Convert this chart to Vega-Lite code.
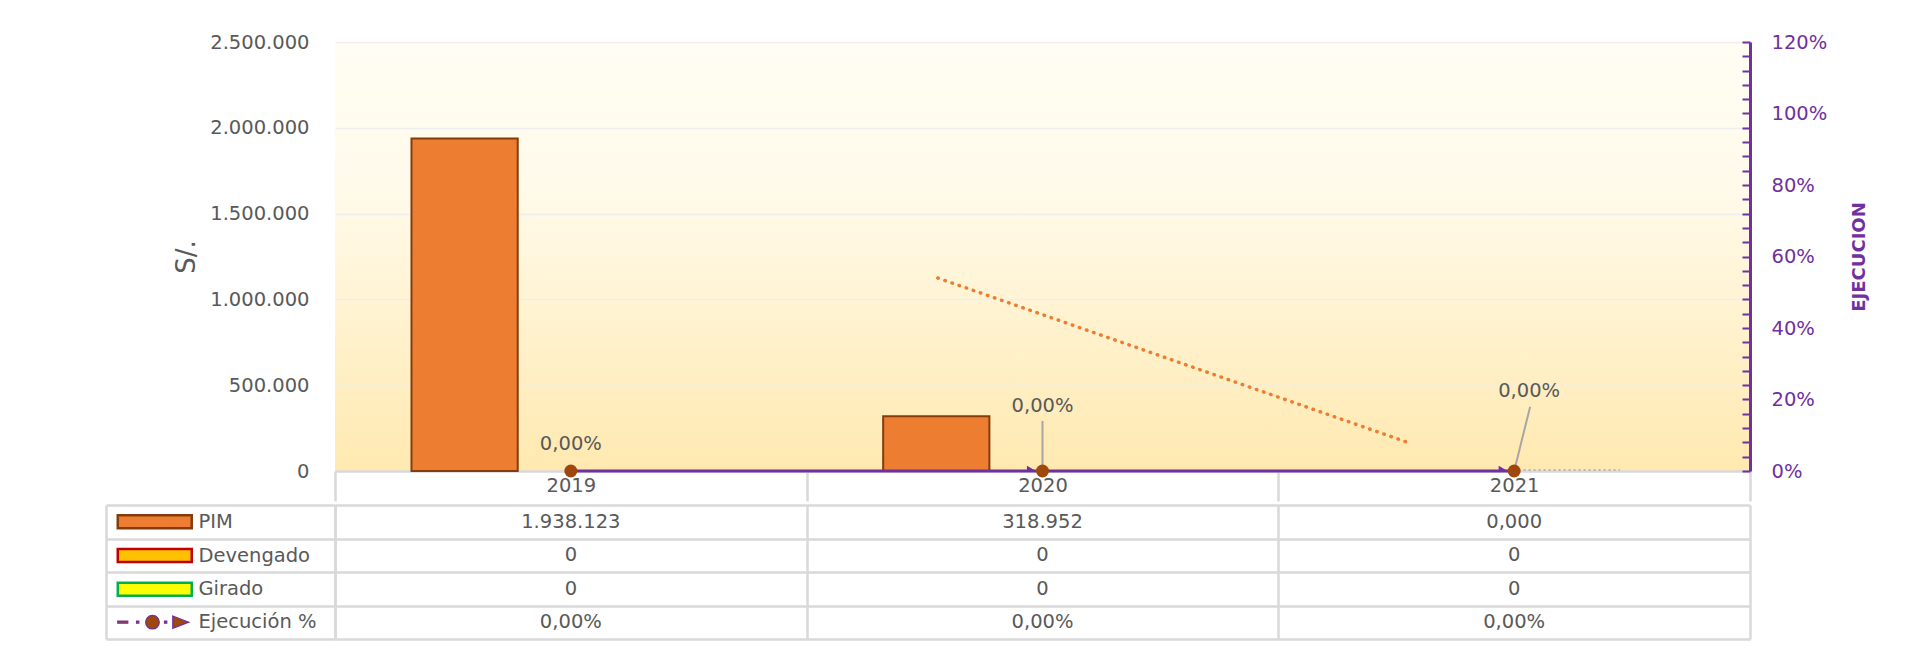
{
  "$schema": "https://vega.github.io/schema/vega-lite/v6.json",
  "background": "white",
  "padding": {"left": 104, "top": 32, "right": 10, "bottom": 8},
  "config": {
    "font": "DejaVu Sans",
    "view": {"stroke": null},
    "locale": {"number": {"decimal": ",", "thousands": ".", "grouping": [3], "currency": ["S/ ", ""]}}
  },
  "datasets": {
    "montos": [
      {"anio": "2019", "serie": "PIM", "monto": 1938123},
      {"anio": "2019", "serie": "Devengado", "monto": 0},
      {"anio": "2019", "serie": "Girado", "monto": 0},
      {"anio": "2020", "serie": "PIM", "monto": 318952},
      {"anio": "2020", "serie": "Devengado", "monto": 0},
      {"anio": "2020", "serie": "Girado", "monto": 0},
      {"anio": "2021", "serie": "PIM", "monto": 0},
      {"anio": "2021", "serie": "Devengado", "monto": 0},
      {"anio": "2021", "serie": "Girado", "monto": 0}
    ],
    "ejecucion": [
      {"anio": "2019", "pct": 0},
      {"anio": "2020", "pct": 0},
      {"anio": "2021", "pct": 0}
    ],
    "tendencia": [
      {"anio_t": 2019.778, "monto": 1124700},
      {"anio_t": 2020.772, "monto": 169000}
    ],
    "tendencia_ejec": [
      {"anio_t": 2021.02, "pct": 0.003},
      {"anio_t": 2021.224, "pct": 0.003}
    ],
    "tabla": [
      {"anio": "2019", "serie": "PIM", "texto": "1.938.123"},
      {"anio": "2020", "serie": "PIM", "texto": "318.952"},
      {"anio": "2021", "serie": "PIM", "texto": "0,000"},
      {"anio": "2019", "serie": "Devengado", "texto": "0"},
      {"anio": "2020", "serie": "Devengado", "texto": "0"},
      {"anio": "2021", "serie": "Devengado", "texto": "0"},
      {"anio": "2019", "serie": "Girado", "texto": "0"},
      {"anio": "2020", "serie": "Girado", "texto": "0"},
      {"anio": "2021", "serie": "Girado", "texto": "0"},
      {"anio": "2019", "serie": "Ejecución %", "texto": "0,00%"},
      {"anio": "2020", "serie": "Ejecución %", "texto": "0,00%"},
      {"anio": "2021", "serie": "Ejecución %", "texto": "0,00%"}
    ]
  },
  "spacing": 0,
  "resolve": {"scale": {"color": "independent"}, "legend": {"color": "independent"}},
  "vconcat": [
    {
      "width": 1415,
      "height": 429,
      "view": {
        "stroke": null,
        "fill": {
          "gradient": "linear", "x1": 0, "y1": 0, "x2": 0, "y2": 1,
          "stops": [
            {"offset": 0, "color": "#FFFDF4"},
            {"offset": 0.35, "color": "#FFFAEA"},
            {"offset": 1, "color": "#FFE9B0"}
          ]
        }
      },
      "layer": [
        {
          "layer": [
            {
              "data": {"name": "montos"},
              "transform": [{"filter": "datum.monto > 0"}],
              "mark": {"type": "bar", "color": "#ED7D31", "stroke": "#843C0C", "strokeWidth": 2},
              "encoding": {
                "x": {
                  "field": "anio", "type": "nominal",
                  "scale": {"domain": ["2019", "2020", "2021"], "paddingInner": 0, "paddingOuter": 0},
                  "axis": {
                    "title": null, "labelAngle": 0, "labelFontSize": 19.5, "labelColor": "#595959",
                    "labelPadding": -25, "ticks": true, "tickBand": "extent", "tickSize": 30,
                    "tickColor": "#D9D9D9", "tickWidth": 2.5, "domain": true, "domainColor": "#D9D9D9",
                    "domainWidth": 2.5, "grid": false
                  }
                },
                "xOffset": {
                  "field": "serie", "type": "nominal",
                  "scale": {"domain": ["PIM", "Devengado", "Girado"], "paddingInner": 0, "paddingOuter": 0.72}
                },
                "y": {
                  "field": "monto", "type": "quantitative",
                  "scale": {"domain": [0, 2500000], "nice": false},
                  "axis": {
                    "values": [0, 500000, 1000000, 1500000, 2000000, 2500000],
                    "format": ",d", "title": "S/.", "titleFontSize": 26, "titleFontWeight": "normal",
                    "titleColor": "#595959", "titlePadding": 10, "labelColor": "#595959",
                    "labelFontSize": 19.5, "labelPadding": 26, "ticks": false, "domain": false,
                    "grid": true, "gridColor": "#EEEEEE", "gridWidth": 1.5
                  }
                }
              }
            },
            {
              "data": {"name": "ejecucion"},
              "encoding": {
                "x": {"field": "anio", "type": "nominal"},
                "y": {
                  "field": "pct", "type": "quantitative",
                  "scale": {"domain": [0, 1.2], "nice": false},
                  "axis": {
                    "orient": "right",
                    "values": [0, 0.04, 0.08, 0.12, 0.16, 0.2, 0.24, 0.28, 0.32, 0.36, 0.4, 0.44, 0.48, 0.52, 0.56, 0.6, 0.64, 0.68, 0.72, 0.76, 0.8, 0.84, 0.88, 0.92, 0.96, 1, 1.04, 1.08, 1.12, 1.16, 1.2],
                    "labelExpr": "round(datum.value * 100) % 20 === 0 ? format(datum.value, '.0%') : ''",
                    "labelOverlap": false,
                    "title": "EJECUCION", "titleColor": "#7030A0", "titleFontWeight": "bold",
                    "titleFontSize": 18, "titleAngle": 270, "titlePadding": 42,
                    "labelColor": "#7030A0", "labelFontSize": 19.5, "labelPadding": 29,
                    "tickColor": "#7030A0", "tickWidth": 2, "tickSize": -8,
                    "domainColor": "#7030A0", "domainWidth": 3, "grid": false
                  }
                }
              },
              "layer": [
                {"mark": {"type": "line", "color": "#7030A0", "strokeWidth": 3}},
                {
                  "transform": [{"filter": "datum.anio != '2019'"}],
                  "mark": {"type": "point", "shape": "triangle-right", "filled": true, "color": "#7030A0", "opacity": 1, "size": 110, "xOffset": -11, "clip": true}
                },
                {
                  "transform": [{"filter": "datum.anio == '2020'"}],
                  "mark": {"type": "rule", "color": "#A6A6A6", "strokeWidth": 2},
                  "encoding": {"y2": {"datum": 0.14}}
                },
                {
                  "transform": [{"filter": "datum.anio == '2021'"}],
                  "mark": {"type": "rule", "color": "#A6A6A6", "strokeWidth": 2, "x2Offset": 16},
                  "encoding": {"x2": {"field": "anio"}, "y2": {"datum": 0.18}}
                },
                {"mark": {"type": "point", "shape": "circle", "filled": true, "color": "#9E480E", "opacity": 1, "size": 169}},
                {
                  "transform": [{"filter": "datum.anio == '2019'"}],
                  "mark": {"type": "text", "dy": -27, "fontSize": 19.5, "color": "#595959"},
                  "encoding": {"text": {"field": "pct", "type": "quantitative", "format": ".2%"}}
                },
                {
                  "transform": [{"filter": "datum.anio == '2020'"}],
                  "mark": {"type": "text", "dy": -65, "fontSize": 19.5, "color": "#595959"},
                  "encoding": {"text": {"field": "pct", "type": "quantitative", "format": ".2%"}}
                },
                {
                  "transform": [{"filter": "datum.anio == '2021'"}],
                  "mark": {"type": "text", "dy": -80, "dx": 15, "fontSize": 19.5, "color": "#595959"},
                  "encoding": {"text": {"field": "pct", "type": "quantitative", "format": ".2%"}}
                }
              ]
            }
          ],
          "resolve": {"scale": {"y": "independent"}}
        },
        {
          "data": {"name": "tendencia"},
          "mark": {"type": "line", "color": "#ED7D31", "strokeWidth": 3.5, "strokeDash": [0.5, 7], "strokeCap": "round"},
          "encoding": {
            "x": {"field": "anio_t", "type": "quantitative", "scale": {"domain": [2018.5, 2021.5], "nice": false, "zero": false}, "axis": null},
            "y": {"field": "monto", "type": "quantitative", "scale": {"domain": [0, 2500000], "nice": false}, "axis": null}
          }
        },
        {
          "data": {"name": "tendencia_ejec"},
          "mark": {"type": "line", "color": "#A6A6A6", "strokeWidth": 1.5, "strokeDash": [2, 3]},
          "encoding": {
            "x": {"field": "anio_t", "type": "quantitative", "scale": {"domain": [2018.5, 2021.5], "nice": false, "zero": false}, "axis": null},
            "y": {"field": "pct", "type": "quantitative", "scale": {"domain": [0, 1.2], "nice": false}, "axis": null}
          }
        }
      ],
      "resolve": {"scale": {"x": "independent", "y": "independent"}}
    },
    {
      "width": 1415,
      "height": 134,
      "view": {"stroke": null},
      "data": {"name": "tabla"},
      "layer": [
        {
          "mark": {"type": "text", "fontSize": 19.5, "color": "#595959"},
          "encoding": {
            "x": {
              "field": "anio", "type": "nominal",
              "scale": {"domain": ["2019", "2020", "2021"], "paddingInner": 0, "paddingOuter": 0},
              "axis": {"title": null, "labels": false, "ticks": false, "domain": false, "grid": true, "gridColor": "#D9D9D9", "gridWidth": 2.5, "tickBand": "extent"}
            },
            "y": {
              "field": "serie", "type": "nominal",
              "scale": {"domain": ["PIM", "Devengado", "Girado", "Ejecución %"], "paddingInner": 0, "paddingOuter": 0},
              "axis": {"title": null, "labels": false, "ticks": true, "tickSize": 229, "tickColor": "#D9D9D9", "tickWidth": 2.5, "tickBand": "extent", "grid": true, "gridColor": "#D9D9D9", "gridWidth": 2.5, "domain": true, "domainColor": "#D9D9D9", "domainWidth": 2.5}
            },
            "text": {"field": "texto"}
          }
        },
        {
          "mark": {"type": "tick", "opacity": 0},
          "encoding": {
            "y": {
              "field": "serie", "type": "nominal",
              "scale": {"domain": ["PIM", "Devengado", "Girado", "Ejecución %"], "paddingInner": 0, "paddingOuter": 0},
              "axis": {"orient": "left", "offset": 229, "title": null, "labels": false, "ticks": false, "grid": false, "domain": true, "domainColor": "#D9D9D9", "domainWidth": 2.5}
            }
          }
        },
        {
          "mark": {"type": "point", "filled": true, "opacity": 0},
          "encoding": {
            "color": {
              "field": "serie", "type": "nominal",
              "scale": {"domain": ["PIM", "Devengado", "Girado", "Ejecución %"], "range": ["#ED7D31", "#FFC000", "#FFFF00", "#9E480E"]},
              "legend": {
                "orient": "none", "legendX": -190, "legendY": 7, "title": null, "direction": "vertical",
                "symbolSize": 169, "symbolStrokeWidth": 2.5, "symbolOpacity": 1,
                "symbolType": "M-5.69,-1H5.69V1H-5.69Z",
                "labelFontSize": 19.5, "labelColor": "#595959", "labelOffset": 34, "rowPadding": 9.8, "padding": 0,
                "encode": {
                  "symbols": {
                    "update": {
                      "opacity": {"value": 1},
                      "shape": {"signal": "datum.value === 'Ejecución %' ? 'M-5.69,-0.16H-4.15V0.16H-5.69ZM-2.8,-0.16H-2.45V0.16H-2.8ZM-1.4,0A1.05,1.05 0 1,0 0.7,0A1.05,1.05 0 1,0 -1.4,0ZM1.5,-0.16H1.85V0.16H1.5ZM2.77,-0.95L5.23,0L2.77,0.95Z' : 'M-5.69,-1H5.69V1H-5.69Z'"},
                      "fill": {"signal": "datum.value === 'PIM' ? '#ED7D31' : datum.value === 'Devengado' ? '#FFC000' : datum.value === 'Girado' ? '#FFFF00' : '#9E480E'"},
                      "stroke": {"signal": "datum.value === 'PIM' ? '#843C0C' : datum.value === 'Devengado' ? '#C00000' : datum.value === 'Girado' ? '#00B050' : '#7030A0'"},
                      "strokeWidth": {"signal": "datum.value === 'Ejecución %' ? 1.2 : 2.5"}
                    }
                  }
                }
              }
            }
          }
        }
      ],
      "resolve": {"scale": {"y": "independent"}}
    }
  ]
}
